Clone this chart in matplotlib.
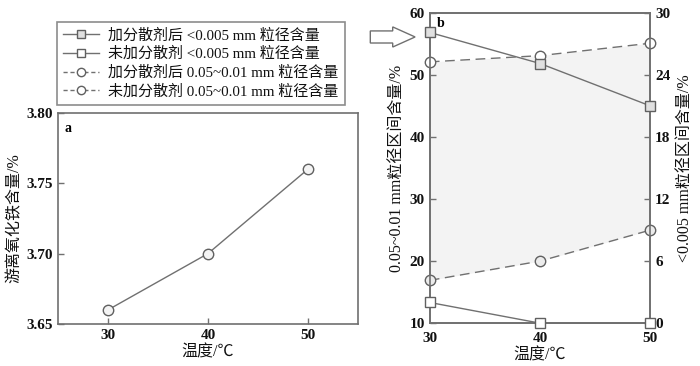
import matplotlib
matplotlib.use("Agg")
import matplotlib.pyplot as plt
from matplotlib.lines import Line2D
from matplotlib.patches import FancyArrow

plt.rcParams['font.family'] = ['Liberation Serif', 'Noto Sans CJK SC', 'DejaVu Sans']
plt.rcParams['axes.unicode_minus'] = False

# Panel a data
temps = [30, 40, 50]
iron_oxide = [3.66, 3.70, 3.76]

# Panel b data
fine_with = [28.1, 25.1, 21.0]        # 加分散剂后 <0.005 mm (right axis)
fine_without = [2.0, 0.0, 0.0]        # 未加分散剂 <0.005 mm (right axis)
mid_with = [52.1, 53.1, 55.1]         # 加分散剂后 0.05~0.01 mm (left axis)
mid_without = [16.9, 20.0, 25.0]      # 未加分散剂 0.05~0.01 mm (left axis)

a_yticks = [3.65, 3.70, 3.75, 3.80]
a_yticklabels = ['3.65', '3.70', '3.75', '3.80']
b_left_ticks = [10, 20, 30, 40, 50, 60]
b_right_ticks = [0, 6, 12, 18, 24, 30]

labels = ['加分散剂后 <0.005 mm 粒径含量',
          '未加分散剂 <0.005 mm 粒径含量',
          '加分散剂后 0.05~0.01 mm 粒径含量',
          '未加分散剂 0.05~0.01 mm 粒径含量']

spine_c = '#707070'
line_c = '#707070'
txt = '#111111'
lab_fs = 11.5

fig = plt.figure(figsize=(7.0, 3.66), dpi=100)

def style(ax):
    for s in ax.spines.values():
        s.set_color(spine_c)
        s.set_linewidth(1.2)
    ax.tick_params(direction='in', color=spine_c, length=4, width=1.0,
                   labelsize=11, labelcolor=txt)
    for lab in ax.get_xticklabels() + ax.get_yticklabels():
        lab.set_fontweight('bold')

# ---------- Panel a ----------
axa = fig.add_axes([0.083, 0.115, 0.428, 0.576])
axa.plot(temps, iron_oxide, color=line_c, lw=1.0, marker='o', ms=7.5,
         mfc='#f4f4f4', mec='#606060', mew=1.0)
axa.set_xlim(25, 55)
axa.set_ylim(3.65, 3.80)
axa.set_xticks(temps)
axa.set_yticks(a_yticks)
axa.set_yticklabels(a_yticklabels)
axa.set_xlabel('温度/℃', fontsize=lab_fs, color=txt, labelpad=2)
axa.set_ylabel('游离氧化铁含量/%', fontsize=lab_fs, color=txt, labelpad=3)
axa.text(0.02, 0.96, 'a', transform=axa.transAxes, fontsize=10,
         fontweight='bold', va='top', ha='left')
style(axa)

# ---------- Panel b ----------
axb = fig.add_axes([0.614, 0.117, 0.315, 0.848])
axb.fill_between(temps, mid_without, mid_with, color='#f3f3f3', lw=0, zorder=0)
axb.plot(temps, mid_with, color=line_c, lw=1.0, ls=(0, (7, 4)), marker='o', ms=7.5,
         mfc='white', mec='#606060', mew=1.0, clip_on=False, zorder=3)
axb.plot(temps, mid_without, color=line_c, lw=1.0, ls=(0, (7, 4)), marker='o', ms=7.5,
         mfc='#ececec', mec='#606060', mew=1.0, clip_on=False, zorder=3)
axb.set_xlim(30, 50)
axb.set_ylim(10, 60)
axb.set_xticks(temps)
axb.set_yticks(b_left_ticks)
axb.set_xlabel('温度/℃', fontsize=lab_fs, color=txt, labelpad=2)
axb.set_ylabel('0.05~0.01 mm粒径区间含量/%', fontsize=lab_fs, color=txt, labelpad=3)
axb.text(0.03, 0.985, 'b', transform=axb.transAxes, fontsize=10,
         fontweight='bold', va='top', ha='left')
style(axb)
axb.tick_params(axis='x', length=0, pad=6)

axr = axb.twinx()
axr.plot(temps, fine_with, color=line_c, lw=1.0, marker='s', ms=7.5,
         mfc='#e0e0e0', mec='#606060', mew=1.0, clip_on=False, zorder=3)
axr.plot(temps, fine_without, color=line_c, lw=1.0, marker='s', ms=7.5,
         mfc='white', mec='#606060', mew=1.0, clip_on=False, zorder=3)
axr.set_ylim(0, 30)
axr.set_yticks(b_right_ticks)
axr.set_ylabel('<0.005 mm粒径区间含量/%', fontsize=lab_fs, color=txt, labelpad=5)
style(axr)

# ---------- Legend ----------
handles = [
    Line2D([], [], color=line_c, lw=1.0, marker='s', ms=6, mfc='#e0e0e0', mec='#606060'),
    Line2D([], [], color=line_c, lw=1.0, marker='s', ms=6, mfc='white', mec='#606060'),
    Line2D([], [], color=line_c, lw=1.0, ls=(0, (3, 2)), marker='o', ms=6, mfc='white', mec='#606060'),
    Line2D([], [], color=line_c, lw=1.0, ls=(0, (3, 2)), marker='o', ms=6, mfc='white', mec='#606060'),
]
leg = fig.legend(handles, labels, loc='upper left', bbox_to_anchor=(0.081, 0.94),
                 frameon=True, fancybox=False, edgecolor=spine_c,
                 handlelength=2.4, handletextpad=0.6, labelspacing=0.28,
                 borderpad=0.42, borderaxespad=0, prop={'size': 10.8})
leg.get_frame().set_linewidth(1.2)
for t in leg.get_texts():
    t.set_color(txt)

# ---------- Arrow ----------
arrow = FancyArrow(0.529, 0.899, 0.064, 0, width=0.033, head_width=0.055,
                   head_length=0.032, length_includes_head=True,
                   transform=fig.transFigure, facecolor='white',
                   edgecolor=spine_c, lw=1.0)
fig.patches.append(arrow)

fig.savefig('out.png', dpi=100)
